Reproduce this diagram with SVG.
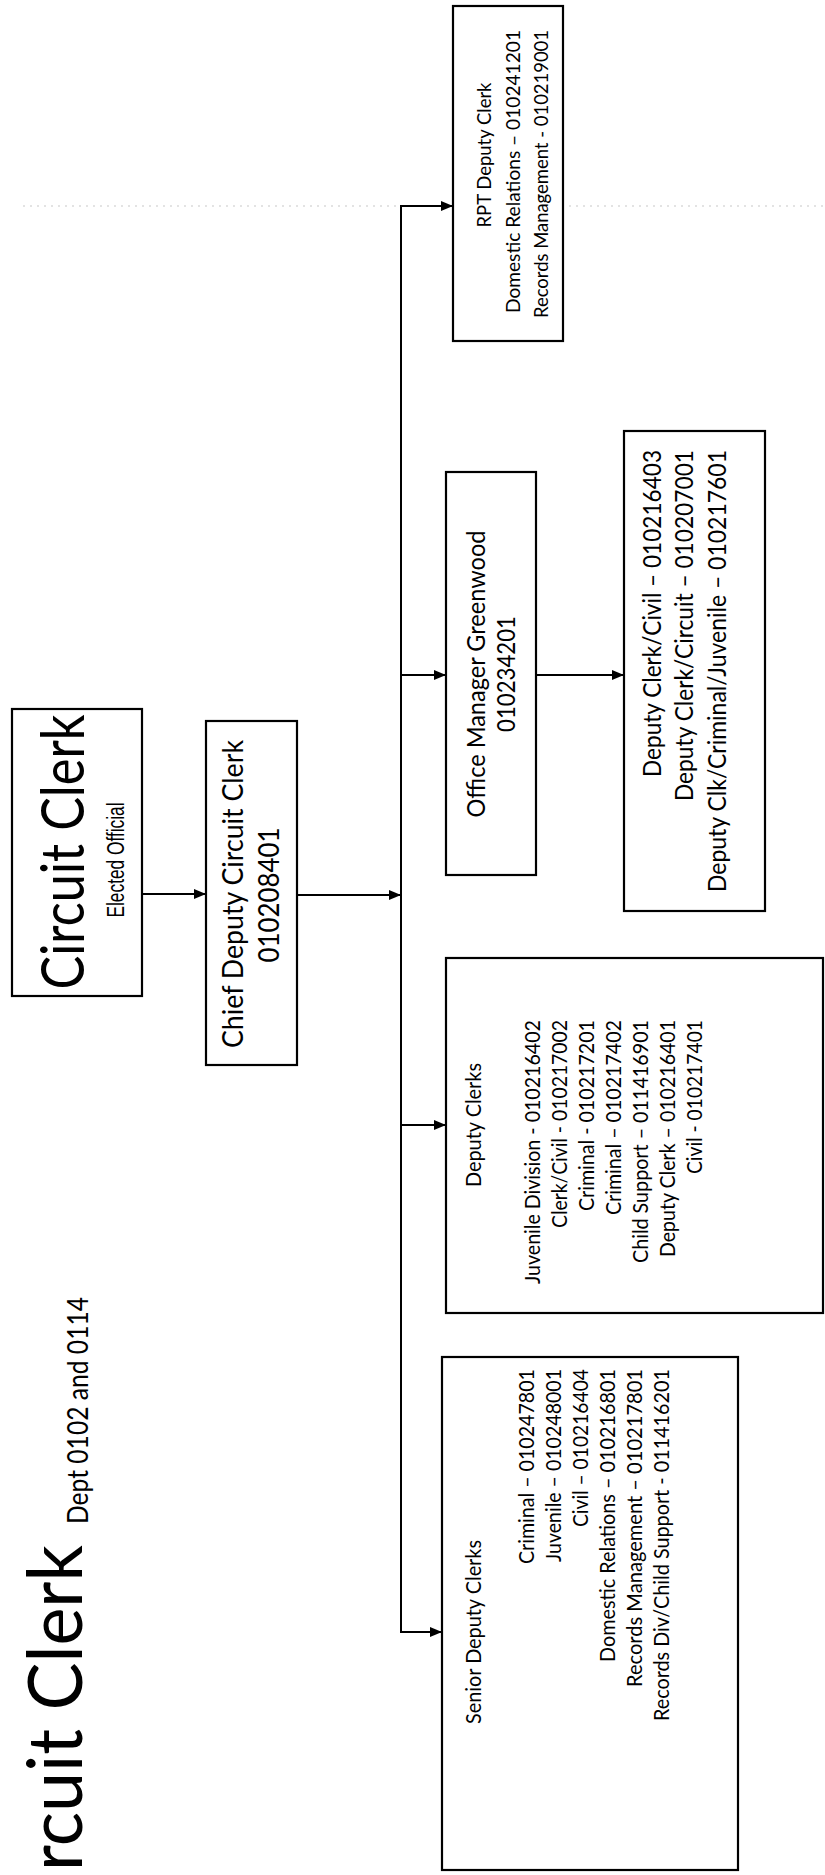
<svg xmlns="http://www.w3.org/2000/svg" width="825" height="1875" viewBox="0 0 825 1875">
  <defs>
    <marker id="arrow" markerWidth="12" markerHeight="10" refX="12" refY="5" orient="auto" markerUnits="userSpaceOnUse">
      <path d="M0,0 L12,5 L0,10 Z" fill="#000"/>
    </marker>
  </defs>
  <style>
    .box { fill: #fff; stroke: #000; stroke-width: 2.2; }
    .conn { fill: none; stroke: #000; stroke-width: 2; }
    .conn-arrow { fill: none; stroke: #000; stroke-width: 2; marker-end: url(#arrow); }
    text { font-family: Lato, "Open Sans", "Liberation Sans", sans-serif; fill: #000; }
    .title { font-size: 76px; }
    .big { font-size: 60px; }
    .sub { font-size: 28px; }
    .narrow { font-family: "Liberation Sans", Arial, sans-serif; font-size: 23px; }
    .chief { font-size: 29px; }
    .mid { font-size: 25px; }
    .rpt { font-size: 19.5px; }
    .list { font-size: 22px; }
  </style>
  <rect width="825" height="1875" fill="#fff"/>

  <!-- faint fold line across the sheet -->
  <line x1="23" y1="206" x2="825" y2="206" stroke="#c8c8c8" stroke-width="1.2" stroke-dasharray="2 5"/>

  <!-- page title, running off the bottom edge -->
  <g id="page-title">
    <text class="title" text-anchor="start" transform="translate(82,1871) rotate(-90)" textLength="326" lengthAdjust="spacingAndGlyphs">rcuit Clerk</text>
    <text class="sub" text-anchor="end" transform="translate(88,1297) rotate(-90)" textLength="227" lengthAdjust="spacingAndGlyphs">Dept 0102 and 0114</text>
  </g>

  <!-- connectors -->
  <g id="connectors">
    <line class="conn-arrow" x1="142" y1="894" x2="206" y2="894"/>
    <line class="conn-arrow" x1="297" y1="895" x2="401" y2="895"/>
    <line class="conn" x1="401" y1="205" x2="401" y2="1633"/>
    <line class="conn-arrow" x1="401" y1="206" x2="453" y2="206"/>
    <line class="conn-arrow" x1="401" y1="675" x2="446" y2="675"/>
    <line class="conn-arrow" x1="401" y1="1125" x2="446" y2="1125"/>
    <line class="conn-arrow" x1="401" y1="1632" x2="442" y2="1632"/>
    <line class="conn-arrow" x1="536" y1="675" x2="624" y2="675"/>
  </g>

  <g id="circuit-clerk">
    <rect class="box" x="12" y="709" width="130" height="287"/>
    <text class="big" text-anchor="middle" transform="translate(84,852) rotate(-90)" textLength="275" lengthAdjust="spacingAndGlyphs">Circuit Clerk</text>
    <text class="narrow" text-anchor="middle" transform="translate(124,860) rotate(-90)" textLength="115" lengthAdjust="spacingAndGlyphs">Elected Official</text>
  </g>

  <g id="chief-deputy">
    <rect class="box" x="206" y="721" width="91" height="344"/>
    <text class="chief" text-anchor="middle" transform="translate(243,894) rotate(-90)" textLength="308" lengthAdjust="spacingAndGlyphs">Chief Deputy Circuit Clerk</text>
    <text class="chief" text-anchor="middle" transform="translate(279,895) rotate(-90)" textLength="135" lengthAdjust="spacingAndGlyphs">010208401</text>
  </g>

  <g id="rpt-deputy-clerk">
    <rect class="box" x="453" y="6" width="110" height="335"/>
    <text class="rpt" text-anchor="middle" transform="translate(491,155) rotate(-90)" textLength="145" lengthAdjust="spacingAndGlyphs">RPT Deputy Clerk</text>
    <text class="rpt" text-anchor="end" transform="translate(520,30) rotate(-90)" textLength="283" lengthAdjust="spacingAndGlyphs">Domestic Relations – 010241201</text>
    <text class="rpt" text-anchor="end" transform="translate(548,30) rotate(-90)" textLength="288" lengthAdjust="spacingAndGlyphs">Records Management - 010219001</text>
  </g>

  <g id="office-manager">
    <rect class="box" x="446" y="472" width="90" height="403"/>
    <text class="mid" text-anchor="middle" transform="translate(485,674) rotate(-90)" textLength="287" lengthAdjust="spacingAndGlyphs">Office Manager Greenwood</text>
    <text class="mid" text-anchor="middle" transform="translate(515,674) rotate(-90)" textLength="116" lengthAdjust="spacingAndGlyphs">010234201</text>
  </g>

  <g id="greenwood-deputies">
    <rect class="box" x="624" y="431" width="141" height="480"/>
    <text class="mid" text-anchor="end" transform="translate(661,450) rotate(-90)" textLength="327" lengthAdjust="spacingAndGlyphs">Deputy Clerk/Civil – 010216403</text>
    <text class="mid" text-anchor="end" transform="translate(693,450) rotate(-90)" textLength="351" lengthAdjust="spacingAndGlyphs">Deputy Clerk/Circuit – 010207001</text>
    <text class="mid" text-anchor="end" transform="translate(726,450) rotate(-90)" textLength="442" lengthAdjust="spacingAndGlyphs">Deputy Clk/Criminal/Juvenile – 010217601</text>
  </g>

  <g id="deputy-clerks">
    <rect class="box" x="446" y="958" width="377" height="355"/>
    <text class="list" text-anchor="middle" transform="translate(481,1125) rotate(-90)" textLength="124" lengthAdjust="spacingAndGlyphs">Deputy Clerks</text>
    <text class="list" text-anchor="end" transform="translate(540,1020) rotate(-90)" textLength="264" lengthAdjust="spacingAndGlyphs">Juvenile Division - 010216402</text>
    <text class="list" text-anchor="end" transform="translate(567,1020) rotate(-90)" textLength="208" lengthAdjust="spacingAndGlyphs">Clerk/Civil - 010217002</text>
    <text class="list" text-anchor="end" transform="translate(594,1020) rotate(-90)" textLength="191" lengthAdjust="spacingAndGlyphs">Criminal - 010217201</text>
    <text class="list" text-anchor="end" transform="translate(621,1020) rotate(-90)" textLength="195" lengthAdjust="spacingAndGlyphs">Criminal – 010217402</text>
    <text class="list" text-anchor="end" transform="translate(648,1020) rotate(-90)" textLength="243" lengthAdjust="spacingAndGlyphs">Child Support – 011416901</text>
    <text class="list" text-anchor="end" transform="translate(675,1020) rotate(-90)" textLength="237" lengthAdjust="spacingAndGlyphs">Deputy Clerk – 010216401</text>
    <text class="list" text-anchor="end" transform="translate(702,1020) rotate(-90)" textLength="154" lengthAdjust="spacingAndGlyphs">Civil - 010217401</text>
  </g>

  <g id="senior-deputy-clerks">
    <rect class="box" x="442" y="1357" width="296" height="513"/>
    <text class="list" text-anchor="middle" transform="translate(481,1632) rotate(-90)" textLength="184" lengthAdjust="spacingAndGlyphs">Senior Deputy Clerks</text>
    <text class="list" text-anchor="end" transform="translate(534,1369) rotate(-90)" textLength="195" lengthAdjust="spacingAndGlyphs">Criminal – 010247801</text>
    <text class="list" text-anchor="end" transform="translate(561,1369) rotate(-90)" textLength="193" lengthAdjust="spacingAndGlyphs">Juvenile – 010248001</text>
    <text class="list" text-anchor="end" transform="translate(588,1369) rotate(-90)" textLength="158" lengthAdjust="spacingAndGlyphs">Civil – 010216404</text>
    <text class="list" text-anchor="end" transform="translate(615,1369) rotate(-90)" textLength="293" lengthAdjust="spacingAndGlyphs">Domestic Relations – 010216801</text>
    <text class="list" text-anchor="end" transform="translate(642,1369) rotate(-90)" textLength="318" lengthAdjust="spacingAndGlyphs">Records Management – 010217801</text>
    <text class="list" text-anchor="end" transform="translate(669,1369) rotate(-90)" textLength="352" lengthAdjust="spacingAndGlyphs">Records Div/Child Support - 011416201</text>
  </g>
</svg>
